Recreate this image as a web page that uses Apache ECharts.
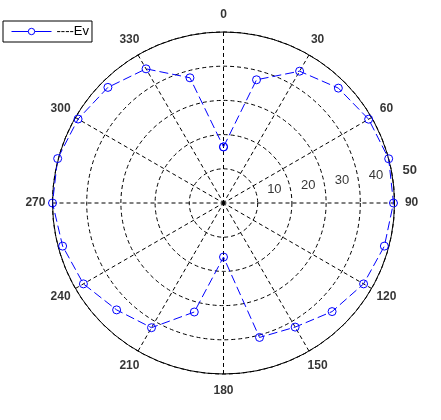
<!DOCTYPE html>
<html><head><meta charset="utf-8">
<script src="https://cdn.jsdelivr.net/npm/echarts@6/dist/echarts.min.js"></script>
<style>html,body{margin:0;padding:0;background:#fff}#c{width:441px;height:420px}</style>
</head><body><div id="c"></div>
<script>
// ---- data ----
const seriesName = '----Ev';
const angles = [0,15,30,45,60,75,90,105,120,135,150,165,180,195,210,225,240,255,270,285,300,315,330,345,360];
const evValues = [16.4,37.3,44.5,47.5,49.0,50.0,49.7,48.7,47.3,44.9,41.9,40.7,15.8,33.0,42.1,44.2,47.3,48.7,50.0,50.2,49.1,47.8,45.3,37.9,16.4];
const angleTicks = [0,30,60,90,120,150,180,210,240,270,300,330];
const angleTickLabels = ['0','30','60','90','120','150','180','210','240','270','300','330'];
const ringTicks = [10,20,30,40,50];
const ringTickLabels = ['10','20','30','40','50'];
const ringLabelAngle = 82;
const angleLabelRadius = 55;
const rMax = 50;

const chart = echarts.init(document.getElementById('c'), null, {renderer:'canvas'});

const ev = angles.map((a,i)=>[evValues[i], a]);
const ringLabelData = ringTicks.map((r,i)=>({
  value:[r, ringLabelAngle],
  label: i === ringTicks.length-1 ? {fontWeight:'bold'} : {}
}));
const angleLabelData = angleTicks.map(a=>[angleLabelRadius, a]);

chart.setOption({
  backgroundColor:'#fff',
  animation:false,
  legend:{
    data:[seriesName],
    left:3, top:21,
    orient:'horizontal',
    backgroundColor:'#fff',
    borderColor:'#000', borderWidth:1, borderRadius:0,
    padding:[4,3,4,8],
    itemWidth:40, itemHeight:8, itemGap:5,
    lineStyle:{type:'solid', width:1, color:'#0000ff'},
    itemStyle:{color:'#fff', borderColor:'#0000ff', borderWidth:1},
    textStyle:{fontFamily:'Liberation Sans', fontSize:13, color:'#000'}
  },
  polar:{center:[223.5,203], radius:171},
  angleAxis:{
    type:'value', min:0, max:360, interval:30, startAngle:90, clockwise:true,
    axisLine:{show:true, lineStyle:{color:'#000', width:1}},
    axisTick:{show:false},
    axisLabel:{show:false},
    splitLine:{show:true, lineStyle:{color:'#000', width:1, type:[4,3]}},
    splitArea:{show:false}
  },
  radiusAxis:{
    type:'value', min:0, max:rMax, interval:10,
    axisLine:{show:false}, axisTick:{show:false}, axisLabel:{show:false},
    splitLine:{show:true, lineStyle:{color:'#000', width:1, type:[4,3]}},
    splitArea:{show:false}
  },
  series:[
    {
      name:seriesName, type:'line', coordinateSystem:'polar',
      data:ev, clip:false,
      symbol:'circle', symbolSize:8, showAllSymbol:true,
      lineStyle:{color:'#0000ff', width:1, type:[9,4]},
      itemStyle:{color:'rgba(255,255,255,0)', borderColor:'#0000ff', borderWidth:1},
      z:5
    },
    {
      name:'ringLabels', type:'scatter', coordinateSystem:'polar',
      data:ringLabelData, symbolSize:1, clip:false, silent:true,
      itemStyle:{color:'rgba(0,0,0,0)'},
      label:{show:true, position:'inside', offset:[17,-8.5],
        formatter:p=>ringTickLabels[p.dataIndex],
        fontFamily:'Liberation Sans', fontSize:13, color:'#000'},
      z:6
    },
    {
      name:'angleLabels', type:'scatter', coordinateSystem:'polar',
      data:angleLabelData, symbolSize:1, clip:false, silent:true,
      itemStyle:{color:'rgba(0,0,0,0)'},
      label:{show:true, position:'inside',
        formatter:p=>angleTickLabels[p.dataIndex],
        fontFamily:'Liberation Sans', fontSize:12, fontWeight:'bold', color:'#000'},
      z:6
    }
  ]
});
</script>
</body></html>
